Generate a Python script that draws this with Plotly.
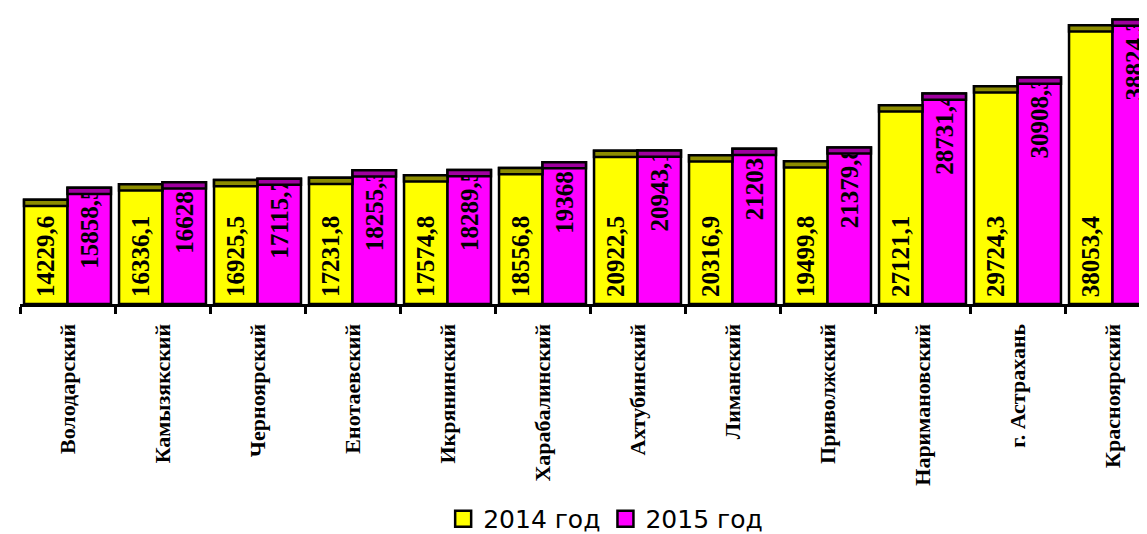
import plotly.graph_objects as go

categories = ["Володарский", "Камызякский", "Черноярский", "Енотаевский", "Икрянинский",
              "Харабалинский", "Ахтубинский", "Лиманский", "Приволжский", "Наримановский",
              "г. Астрахань", "Красноярский"]
values_2014 = [14229.6, 16336.1, 16925.5, 17231.8, 17574.8, 18556.8, 20922.5, 20316.9,
               19499.8, 27121.1, 29724.3, 38053.4]
values_2015 = [15858.5, 16628, 17115.7, 18255.3, 18289.5, 19368, 20943.1, 21203,
               21379.8, 28731.4, 30908.3, 38824.3]
series_names = ["2014 год", "2015 год"]
colors = ["#FFFF00", "#FF00FF"]
cap_colors = ["#8C8C00", "#A000A0"]


def ru(v):
    s = ("%.1f" % v).rstrip("0").rstrip(".")
    return s.replace(".", ",")


CAP = 850        # thickness of the pseudo-3D top face, in value units
BASE_BOX = 13000  # label box for 2014 values, measured up from the axis (value units)
TOP_BOX = 11000   # label box for 2015 values, measured down from the bar top (value units)
LABEL_FONT = dict(family="Liberation Serif", size=25, color="black", weight="bold")
OUTLINE = dict(color="black", width=2.5)
CLEAR = "rgba(0,0,0,0)"

fig = go.Figure()
for vals, name, col, grp in [(values_2014, series_names[0], colors[0], "a"),
                             (values_2015, series_names[1], colors[1], "b")]:
    fig.add_trace(go.Bar(x=categories, y=vals, name=name, offsetgroup=grp,
                         marker=dict(color=col, line=OUTLINE),
                         showlegend=False, hoverinfo="skip"))
# invisible boxes that carry the rotated value labels
fig.add_trace(go.Bar(x=categories, y=[BASE_BOX] * len(values_2014), offsetgroup="a",
                     marker=dict(color=CLEAR, line=dict(width=0)),
                     text=[ru(v) for v in values_2014], textposition="inside",
                     insidetextanchor="middle", textangle=-90, constraintext="none",
                     insidetextfont=LABEL_FONT, showlegend=False, hoverinfo="skip"))
fig.add_trace(go.Bar(x=categories, y=[TOP_BOX] * len(values_2015),
                     base=[v - TOP_BOX for v in values_2015], offsetgroup="b",
                     marker=dict(color=CLEAR, line=dict(width=0)),
                     text=[ru(v) for v in values_2015], textposition="inside",
                     insidetextanchor="middle", textangle=-90, constraintext="none",
                     insidetextfont=LABEL_FONT, showlegend=False, hoverinfo="skip"))
# top faces (drawn last so they cover any label that runs into them)
for vals, col, grp in [(values_2014, cap_colors[0], "a"), (values_2015, cap_colors[1], "b")]:
    fig.add_trace(go.Bar(x=categories, y=[CAP] * len(vals), base=[v - CAP for v in vals],
                         offsetgroup=grp, showlegend=False, hoverinfo="skip",
                         marker=dict(color=col, line=OUTLINE)))
# legend entries
for name, col in zip(series_names, colors):
    fig.add_trace(go.Scatter(x=[None], y=[None], mode="markers", name=name,
                             marker=dict(symbol="square", size=16, color=col,
                                         line=dict(color="black", width=2.5))))

fig.update_layout(
    width=1147, height=534,
    margin=dict(l=12, r=0, t=3, b=226),
    paper_bgcolor="white", plot_bgcolor="white",
    barmode="group", bargap=0.085, bargroupgap=0,
    showlegend=True,
    legend=dict(orientation="h", x=0.516, xanchor="center", y=-0.655, yanchor="top",
                font=dict(family="DejaVu Sans", size=25, color="black"),
                itemwidth=30, tracegroupgap=0),
    xaxis=dict(type="category", range=[-0.5, 11.5 - 5 / 95],
               showline=True, linecolor="black", linewidth=3,
               ticks="outside", tickson="boundaries", ticklen=7, tickwidth=3, tickcolor="black",
               tickangle=-90, ticklabelstandoff=8,
               tickfont=dict(family="Liberation Serif", size=22, color="black", weight="bold"),
               showgrid=False, zeroline=False),
    yaxis=dict(range=[0, 40000], visible=False, showgrid=False, zeroline=False),
)

fig.write_html("out.html")
